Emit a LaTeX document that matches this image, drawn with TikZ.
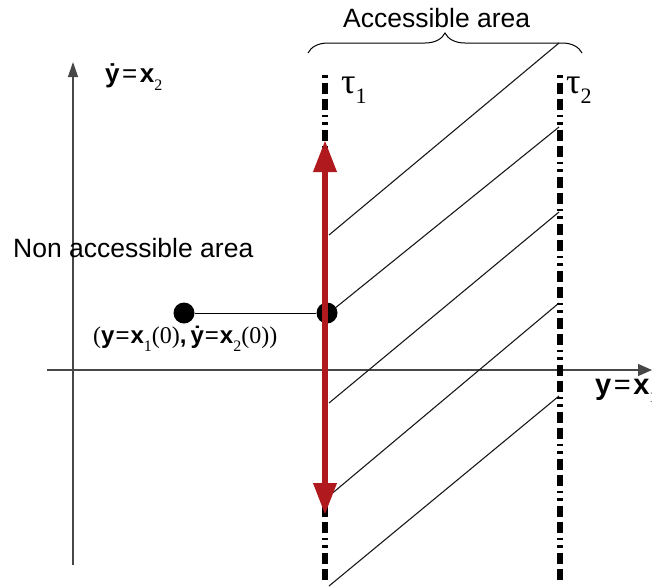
\documentclass[tikz,border=0pt]{standalone}
\usepackage{fontspec}
\setmainfont{Liberation Sans}
\newfontfamily\serifnum{Liberation Serif}
\usetikzlibrary{arrows.meta,decorations.pathreplacing}
\definecolor{arrowRed}{HTML}{B0191E}

\newcommand{\lb}[1]{\textbf{#1}}
\newcommand{\sr}[1]{{\serifnum #1}}
\newcommand{\eqsign}{\kern2.5pt=\kern2.5pt}
\newcommand{\lowsub}[1]{\raisebox{-8pt}{\serifnum\fontsize{16}{16}\selectfont #1}}
\newcommand{\tausub}[1]{\raisebox{-10pt}{\fontsize{22}{22}\selectfont #1}}

\begin{document}
\begin{tikzpicture}[
  x=1pt, y=-1pt,
  axis/.style={draw=black!72, line width=1.3pt},
  taubar/.style={line width=5.5pt, dash pattern=on 2.5pt off 5pt on 11pt off 5pt on 11pt off 5pt on 2.5pt off 5pt},
  hatch/.style={draw=black!90, line width=1.1pt},
  dot/.style={circle, fill=black, minimum size=21pt, inner sep=0pt},
  reach/.style={draw=arrowRed, line width=6.5pt, {Triangle[length=32pt,width=22pt]}-{Triangle[length=32pt,width=22pt]}},
  lbl/.style={inner sep=0pt, anchor=base west, font=\fontsize{24}{28}\selectfont},
  taulbl/.style={inner sep=0pt, anchor=base west, font=\serifnum\fontsize{36}{36}\selectfont},
  area/.style={inner sep=0pt, anchor=base west, font=\fontsize{26.5}{30}\selectfont}
]
\useasboundingbox (0,0) rectangle (652,587);

% axes
\coordinate (ybot) at (73,565);
\coordinate (ytop) at (73,62);
\coordinate (xleft) at (47,370);
\coordinate (xright) at (652,370);
\draw[axis, -{Triangle[length=15pt,width=10pt]}] (ybot) -- (ytop);
\draw[axis, -{Triangle[length=14pt,width=12pt]}] (xleft) -- (xright);

% hatched accessible area
\foreach \ya/\yb in {235/43, 313/127, 403/212, 496/303, 586/396} {
  \draw[hatch] (329,\ya) -- (559,\yb);
}

% time bounds
\coordinate (t1top) at (325,75);
\coordinate (t1bot) at (325,580);
\coordinate (t2top) at (560,75);
\coordinate (t2bot) at (560,580);
\draw[taubar] (t1top) -- (t1bot);
\draw[taubar] (t2top) -- (t2bot);

% brace over accessible area
\coordinate (bl) at (308,53);
\coordinate (br) at (582,53);
\draw[decorate, decoration={brace, amplitude=20pt}, line width=1pt] (bl) -- (br);

% initial state and its reach
\node[dot] (start) at (184,313) {};
\node[dot] (hit) at (327,313) {};
\draw[line width=1pt] (start) -- (hit);
\coordinate (arrtop) at (325,140);
\coordinate (arrbot) at (325,515);
\draw[reach] (arrtop) -- (arrbot);

% labels
\node[lbl, font=\fontsize{26}{30}\selectfont] (ylbl) at (105,82) {\lb{ẏ}\eqsign\lb{x}\lowsub{2}};
\node[lbl, font=\fontsize{29}{32}\selectfont] (xlbl) at (595,394) {\lb{y}\eqsign\lb{x}\lowsub{1}};
\node[lbl] (initlbl) at (93,343) {\sr{(}\lb{y}\kern1pt=\kern1pt\lb{x}\lowsub{1}\sr{(0)}\lb{,}\,\lb{ẏ}\kern1pt=\kern1pt\lb{x}\lowsub{2}\sr{(0))}};
\node[taulbl] (tau1) at (341,93) {τ\tausub{1}};
\node[taulbl] (tau2) at (566,93) {τ\tausub{2}};
\node[area] (acc) at (343,27) {Accessible area};
\node[area] (nonacc) at (13,257) {Non accessible area};
\end{tikzpicture}
\end{document}
